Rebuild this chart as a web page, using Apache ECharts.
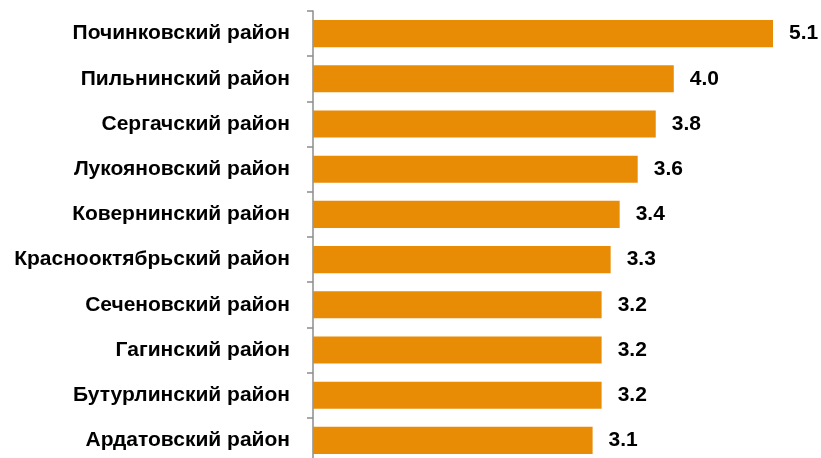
<!DOCTYPE html>
<html>
<head>
<meta charset="utf-8">
<script src="https://cdn.jsdelivr.net/npm/echarts@6/dist/echarts.min.js"></script>
<style>
  html, body { margin: 0; padding: 0; background: #fff; }
  #root { width: 821px; height: 458px; }
</style>
</head>
<body>
<div id="root"></div>
<script>
// районы сверху вниз
const districts = [
  'Починковский район',
  'Пильнинский район',
  'Сергачский район',
  'Лукояновский район',
  'Ковернинский район',
  'Краснооктябрьский район',
  'Сеченовский район',
  'Гагинский район',
  'Бутурлинский район',
  'Ардатовский район',
];
const values = [5.1, 4.0, 3.8, 3.6, 3.4, 3.3, 3.2, 3.2, 3.2, 3.1];

const chart = echarts.init(document.getElementById('root'));

const option = {
  animation: false,
  grid: {
    left: 313,
    width: 460,
    top: 11,
    height: 452,
    outerBoundsMode: 'none',
  },
  xAxis: {
    type: 'value',
    min: 0,
    max: 5.1,
    show: false,
  },
  yAxis: {
    type: 'category',
    data: districts,
    inverse: true,
    axisLine: {
      show: true,
      lineStyle: { color: '#8c8c8c', width: 1.5 },
    },
    axisTick: {
      show: true,
      length: 6,
      lineStyle: { color: '#8c8c8c', width: 1.5 },
    },
    axisLabel: {
      margin: 23,
      color: '#000',
      fontFamily: 'Liberation Sans, Arial, sans-serif',
      fontWeight: 'bold',
      fontSize: 21,
    },
  },
  series: [
    {
      type: 'bar',
      data: values,
      barWidth: '60%',
      itemStyle: { color: '#e98c05' },
      label: {
        show: true,
        position: 'right',
        distance: 16,
        color: '#000',
        fontFamily: 'Liberation Sans, Arial, sans-serif',
        fontWeight: 'bold',
        fontSize: 21,
        formatter: (p) => p.value.toFixed(1),
      },
    },
  ],
};

chart.setOption(option);
</script>
</body>
</html>
